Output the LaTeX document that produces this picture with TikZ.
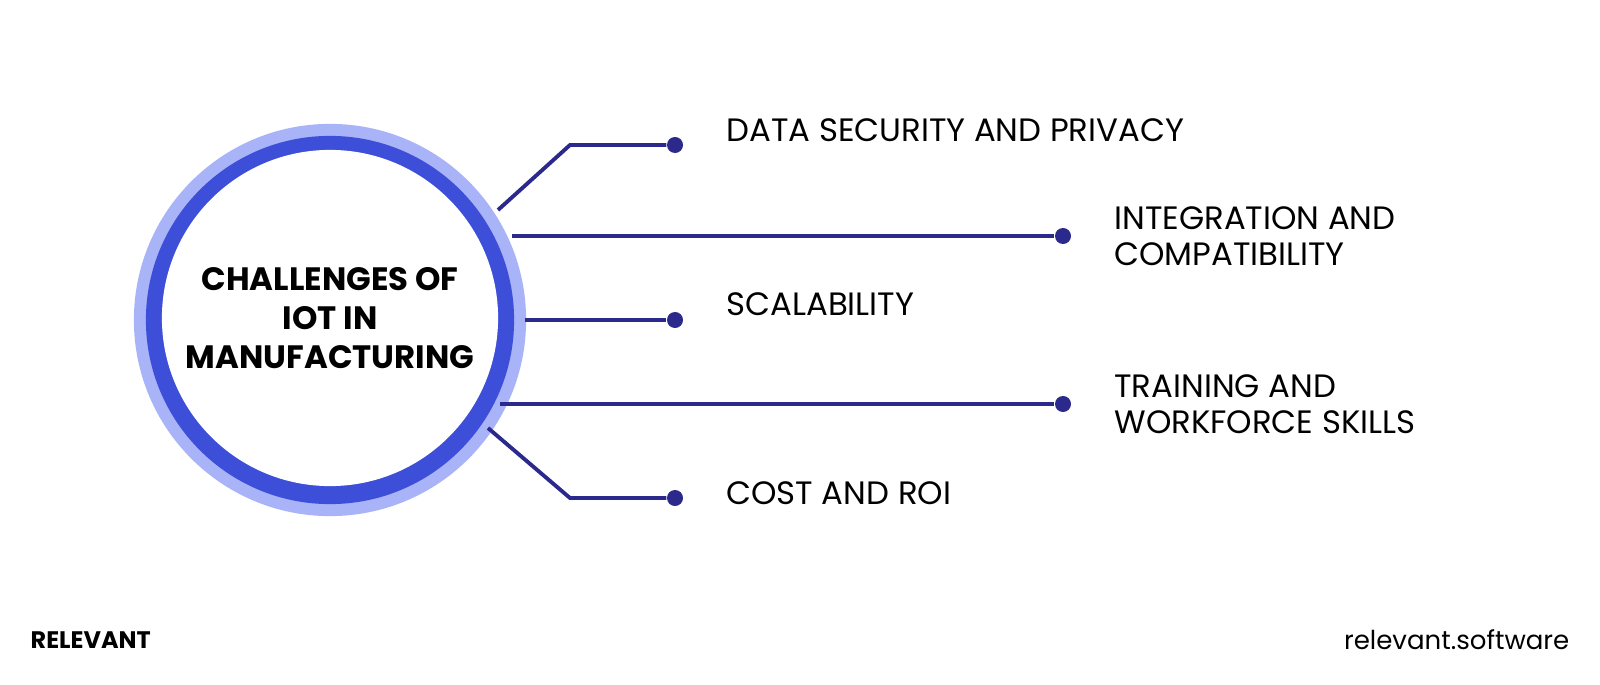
\documentclass[tikz,border=0pt]{standalone}
\usepackage{fontspec}
\setmainfont{Poppins}
\usetikzlibrary{positioning}
\definecolor{ringlight}{HTML}{A9B3F7}
\definecolor{ringdark}{HTML}{3D4FD9}
\definecolor{navy}{HTML}{2B2A8C}
\begin{document}
\begin{tikzpicture}[x=0.01cm,y=-0.01cm,
      every node/.append style={font=\fontsize{9.2}{10.2}\selectfont},
      dot/.style={circle,fill=navy,inner sep=0pt,minimum size=0.16cm},
      link/.style={draw=navy,line width=1.1pt},
      itemtext/.style={anchor=west,align=left,inner sep=0pt}]
    \useasboundingbox (0,0) rectangle (1600,685);
    \fill[ringlight] (330,320) circle (1.96cm);
    \fill[ringdark] (330,320) circle (1.84cm);
    \node (hub) [circle,fill=white,minimum size=3.36cm,inner sep=0pt,align=center,
      font=\fontsize{9.2}{11}\selectfont\bfseries] at (330,318)
      {CHALLENGES OF\\IOT IN\\MANUFACTURING};
    % challenges
    \node (d1) [dot] at (675,145) {};
    \node (d2) [dot] at (1063,236) {};
    \node (d3) [dot] at (675,320) {};
    \node (d4) [dot] at (1063,404) {};
    \node (d5) [dot] at (675,498) {};
    \node (t1) [itemtext,right=0.42cm of d1,yshift=0.15cm] {DATA SECURITY AND PRIVACY};
    \node (t2) [itemtext,right=0.42cm of d2] {INTEGRATION AND\\COMPATIBILITY};
    \node (t3) [itemtext,right=0.42cm of d3,yshift=0.16cm] {SCALABILITY};
    \node (t4) [itemtext,right=0.42cm of d4] {TRAINING AND\\WORKFORCE SKILLS};
    \node (t5) [itemtext,right=0.42cm of d5,yshift=0.05cm] {COST AND ROI};
    \coordinate (k1) at (570,145);
    \coordinate (k5) at (570,498);
    \draw[link] (498,210) -- (k1) -- (d1);
    \draw[link] (512,236) -- (d2);
    \draw[link] (525,320) -- (d3);
    \draw[link] (500,404) -- (d4);
    \draw[link] (488,428) -- (k5) -- (d5);
    % footer
    \node (brand) [anchor=west,inner sep=0pt,font=\fontsize{6.8}{8}\selectfont\bfseries] at (30,640) {RELEVANT};
    \node (site) [anchor=east,inner sep=0pt,font=\fontsize{7.4}{8}\selectfont] at (1570,640) {relevant.software};
\end{tikzpicture}
\end{document}
